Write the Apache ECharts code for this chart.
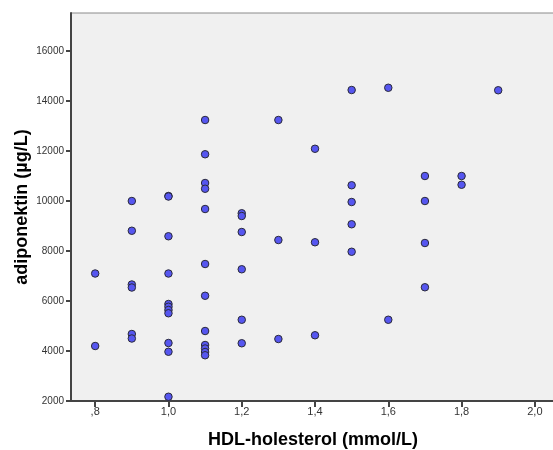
<!DOCTYPE html>
<html>
<head>
<meta charset="utf-8">
<script src="https://cdn.jsdelivr.net/npm/echarts@6/dist/echarts.min.js"></script>
<style>
  html, body { margin: 0; padding: 0; background: #fff; }
  #chart { width: 553px; height: 450px; }
</style>
</head>
<body>
<div id="chart"></div>
<script>
// HDL values (x) and adiponectin (y)
const hdl = [
    0.8, 0.8,
    0.9, 0.9, 0.9, 0.9, 0.9, 0.9,
    1.0, 1.0, 1.0, 1.0, 1.0, 1.0, 1.0, 1.0, 1.0, 1.0, 1.0,
    1.1, 1.1, 1.1, 1.1, 1.1, 1.1, 1.1, 1.1, 1.1, 1.1, 1.1, 1.1,
    1.2, 1.2, 1.2, 1.2, 1.2, 1.2,
    1.3, 1.3, 1.3,
    1.4, 1.4, 1.4,
    1.5, 1.5, 1.5, 1.5, 1.5,
    1.6, 1.6,
    1.7, 1.7, 1.7, 1.7,
    1.8, 1.8,
    1.9
];
const adiponektin = [
    7100, 4200,
    10000, 8810, 6660, 6540, 4680, 4500,
    10200, 10180, 8590, 7100, 5880, 5770, 5640, 5510, 4320, 3970, 2170,
    13240, 11870, 10720, 10490, 9680, 7480, 6210, 4800, 4240, 4100, 3960, 3830,
    9510, 9400, 8760, 7270, 5250, 4310,
    13240, 8440, 4480,
    12090, 8350, 4630,
    14440, 10630, 9960, 9070, 7970,
    14530, 5250,
    11000, 10000, 8320, 6550,
    11000, 10650,
    14430
];
const xTicks = [0.8, 1.0, 1.2, 1.4, 1.6, 1.8, 2.0];
const yTicks = [2000, 4000, 6000, 8000, 10000, 12000, 14000, 16000];

var points = [];
for (var i = 0; i < hdl.length; i++) {
    points.push([hdl[i], adiponektin[i]]);
}

var chart = echarts.init(document.getElementById('chart'));

chart.setOption({
    backgroundColor: '#ffffff',
    animation: false,
    grid: {
        left: 71,
        top: 13,
        right: -2,
        bottom: 49,
        outerBoundsMode: 'none',
        containLabel: false,
        show: true,
        backgroundColor: '#f0f0f0',
        borderColor: '#8a8a8a',
        borderWidth: 1
    },
    xAxis: {
        type: 'value',
        min: 0.734,
        max: 2.055,
        name: 'HDL-holesterol (mmol/L)',
        nameLocation: 'middle',
        nameGap: 30,
        nameTextStyle: {
            fontFamily: 'Liberation Sans',
            fontWeight: 'bold',
            fontSize: 18,
            color: '#000'
        },
        splitLine: { show: false },
        axisLine: { lineStyle: { color: '#444', width: 2 } },
        axisTick: {
            show: true,
            customValues: xTicks,
            length: 6,
            lineStyle: { color: '#444', width: 2 }
        },
        axisLabel: {
            customValues: xTicks,
            fontFamily: 'Liberation Sans',
            fontSize: 11,
            color: '#333',
            margin: 5,
            formatter: function (v) {
                return v.toFixed(1).replace('.', ',').replace(/^0/, '');
            }
        }
    },
    yAxis: {
        type: 'value',
        min: 2000,
        max: 17520,
        name: 'adiponektin (µg/L)',
        nameLocation: 'middle',
        nameGap: 40,
        nameMoveOverlap: false,
        nameTextStyle: {
            fontFamily: 'Liberation Sans',
            fontWeight: 'bold',
            fontSize: 18,
            color: '#000'
        },
        splitLine: { show: false },
        axisLine: { lineStyle: { color: '#444', width: 2 } },
        axisTick: {
            show: true,
            customValues: yTicks,
            length: 5,
            lineStyle: { color: '#444', width: 2 }
        },
        axisLabel: {
            customValues: yTicks,
            fontFamily: 'Liberation Sans',
            fontSize: 10,
            color: '#333',
            margin: 7,
            formatter: function (v) { return String(v); }
        }
    },
    series: [{
        type: 'scatter',
        data: points,
        symbol: 'circle',
        symbolSize: 7.5,
        itemStyle: {
            color: '#5656f0',
            borderColor: '#2a2a3a',
            borderWidth: 1,
            opacity: 1
        }
    }]
});
</script>
</body>
</html>
